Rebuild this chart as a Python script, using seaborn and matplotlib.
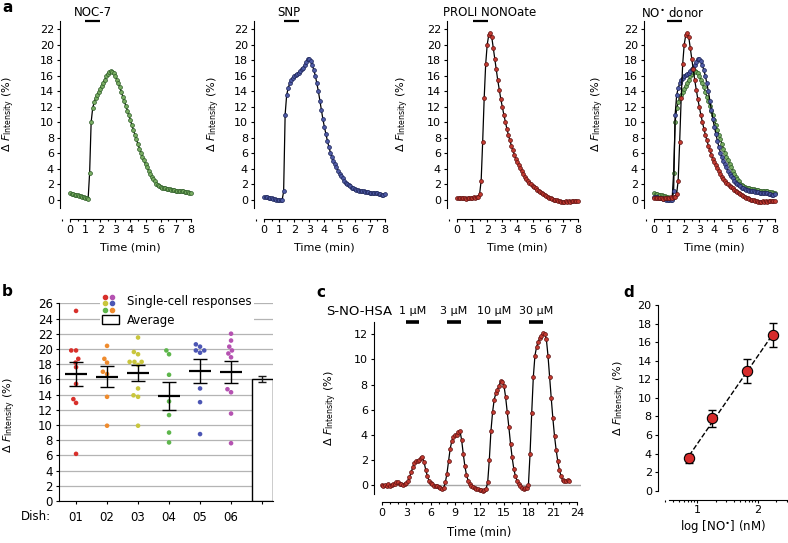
"""
Multi-panel NO-sensor figure: single traces (a), per-dish responses (b),
S-NO-HSA dose steps (c) and dose-response fit (d).
"""

import numpy as np
import pandas as pd
import matplotlib
matplotlib.use("Agg")
import matplotlib.pyplot as plt
import matplotlib.ticker as mticker
import matplotlib.transforms as mtransforms
from matplotlib.lines import Line2D
from matplotlib.patches import Rectangle
from matplotlib.legend_handler import HandlerBase
import seaborn as sns

W, H, DPI = 788, 543, 100

# ---------------------------------------------------------------- data
# panel a: dF (%) sampled every 0.1 min from 0 to 8 min
A_STEP = 0.1
noc7 = [0.85, 0.80, 0.75, 0.70, 0.65, 0.60, 0.55, 0.50, 0.45, 0.35,
        0.30, 0.20, 0.15, 3.5, 10.0, 11.8, 12.6, 13.1, 13.5, 13.9,
        14.3, 14.7, 15.1, 15.5, 15.9, 16.2, 16.5, 16.65, 16.5, 16.3,
        16.0, 15.5, 15.0, 14.5, 13.9, 13.3, 12.7, 12.1, 11.5, 10.9,
        10.3, 9.6, 9.0, 8.4, 7.8, 7.2, 6.6, 6.1, 5.6, 5.1,
        4.6, 4.2, 3.8, 3.4, 3.0, 2.7, 2.4, 2.1, 1.9, 1.75,
        1.65, 1.6, 1.55, 1.5, 1.45, 1.4, 1.4, 1.35, 1.3, 1.25,
        1.2, 1.2, 1.15, 1.1, 1.1, 1.1, 1.05, 1.0, 1.0, 0.95,
        0.9]
snp = [0.45, 0.40, 0.35, 0.30, 0.25, 0.20, 0.15, 0.10, 0.05, 0.05,
       0.0, 0.0, 0.0, 1.1, 11.0, 13.5, 14.4, 15.0, 15.5, 15.7,
       15.9, 16.1, 16.2, 16.4, 16.6, 16.8, 17.0, 17.4, 17.8, 18.2,
       18.2, 17.9, 17.4, 16.7, 16.0, 15.0, 14.0, 12.8, 11.6, 10.4,
       9.4, 8.5, 7.6, 6.8, 6.1, 5.5, 5.0, 4.6, 4.2, 3.8,
       3.4, 3.1, 2.8, 2.5, 2.25, 2.05, 1.9, 1.75, 1.6, 1.5,
       1.4, 1.3, 1.25, 1.2, 1.15, 1.1, 1.1, 1.05, 1.0, 1.0,
       0.95, 0.95, 0.9, 0.9, 0.85, 0.85, 0.8, 0.75, 0.7, 0.7,
       0.75]
proli = [0.3, 0.3, 0.25, 0.3, 0.2, 0.25, 0.15, 0.25, 0.3, 0.2,
         0.3, 0.35, 0.3, 0.35, 0.4, 0.8, 2.5, 7.5, 13.1, 17.5,
         20.0, 21.2, 21.5, 21.0, 19.6, 18.2, 16.8, 15.4, 14.2, 13.0,
         12.0, 11.0, 10.1, 9.2, 8.4, 7.7, 7.0, 6.4, 5.8, 5.3,
         4.9, 4.5, 4.1, 3.7, 3.3, 3.0, 2.7, 2.45, 2.25, 2.05,
         1.85, 1.65, 1.5, 1.35, 1.2, 1.05, 0.9, 0.75, 0.6, 0.5,
         0.4, 0.3, 0.2, 0.1, 0.05, 0.0, -0.05, -0.1, -0.15, -0.2,
         -0.2, -0.2, -0.15, -0.2, -0.15, -0.2, -0.1, -0.15, -0.1, -0.1,
         -0.15]

# application periods (min) drawn as bars under the donor names
noc7_app = (1.0, 2.0)
snp_app = (1.3, 2.3)
proli_app = (1.05, 2.05)
donor_app = (0.85, 1.85)

# panel c: dF (%) sampled every 0.2 min from 0 to 23 min
C_STEP = 0.2
snohsa = [0.0, -0.05, 0.0, -0.1, 0.05, -0.05, 0.0, 0.1, 0.05, 0.25,
          0.2, 0.05, 0.1, 0.0, 0.1, 0.15, 0.3, 0.6, 1.0, 1.4,
          1.75, 1.9, 1.95, 2.0, 2.15, 2.2, 1.8, 1.2, 0.7, 0.35,
          0.15, 0.05, -0.05, -0.1, -0.1, -0.15, -0.2, -0.3, -0.2, 0.2,
          0.9, 1.9, 2.9, 3.5, 3.85, 3.95, 4.0, 4.2, 4.3, 3.6,
          2.5, 1.5, 0.8, 0.35, 0.1, -0.05, -0.15, -0.25, -0.3, -0.35,
          -0.4, -0.4, -0.45, -0.4, -0.3, 0.2, 2.0, 4.3, 5.8, 6.8,
          7.3, 7.6, 7.9, 8.3, 8.2, 7.9, 7.0, 5.8, 4.6, 3.3,
          2.2, 1.3, 0.7, 0.35, 0.1, -0.1, -0.25, -0.3, -0.25, -0.2,
          0.0, 2.5, 5.7, 8.6, 10.3, 11.0, 11.4, 11.7, 11.9, 12.1,
          12.0, 11.6, 10.3, 8.6, 6.9, 5.3, 3.9, 2.8, 1.9, 1.2,
          0.7, 0.4, 0.3, 0.35, 0.4, 0.35]
hsa_doses = ["1 \u00b5M", "3 \u00b5M", "10 \u00b5M", "30 \u00b5M"]
hsa_periods = [(3.0, 4.6), (8.0, 9.7), (12.9, 14.6), (18.1, 19.8)]

# panel b: single-cell responses per dish
dish_labels = ["01", "02", "03", "04", "05", "06"]
dish01 = [25.0, 19.8, 19.8, 18.7, 18.2, 17.6, 15.4, 13.4, 12.9, 6.2]
dish02 = [20.4, 18.7, 18.2, 17.0, 16.7, 13.7, 9.9]
dish03 = [21.5, 19.6, 19.3, 18.3, 18.3, 18.3, 17.9, 14.8, 13.9, 13.7, 9.9]
dish04 = [19.8, 19.3, 16.6, 13.1, 11.3, 9.0, 7.7]
dish05 = [20.6, 20.3, 19.8, 19.5, 19.8, 14.8, 13.0, 8.8]
dish06 = [22.0, 21.1, 20.3, 19.4, 19.8, 18.9, 14.7, 14.3, 11.5, 7.6]
dish_colours = ["#d8302b", "#ef8b2d", "#c9c63c", "#5db64b", "#4c56b4", "#b552b1"]
avg_response = 16.0
avg_sem = 0.4

# panel d: dose response
no_conc_nm = [7.4, 17.8, 66.0, 178.0]
no_response = [3.5, 7.8, 12.9, 16.8]
no_response_sem = [0.5, 0.9, 1.3, 1.3]

TRACE_COLOURS = {
    "green": ("#79ad63", "#2b5a25"),
    "blue": ("#4f5ba6", "#1b2356"),
    "red": ("#c23a30", "#5e1111"),
}

YLABEL = r"$\Delta$ $\mathit{F}_{\mathrm{Intensity}}$ (%)"

# ---------------------------------------------------------------- style
sns.set_theme(style="ticks")
plt.rcParams["font.family"] = ["DejaVu Sans"]
plt.rcParams["mathtext.fontset"] = "dejavusans"
plt.rcParams["axes.edgecolor"] = "black"
plt.rcParams["xtick.color"] = "black"
plt.rcParams["ytick.color"] = "black"
plt.rcParams["text.color"] = "black"
plt.rcParams["axes.labelcolor"] = "black"


def px_axes(fig, box):
    left, top, right, bottom = box
    return fig.add_axes([left / W, 1 - bottom / H, (right - left) / W, (bottom - top) / H])


def frac(box, x_px=None, y_px=None):
    left, top, right, bottom = box
    fx = None if x_px is None else (x_px - left) / (right - left)
    fy = None if y_px is None else (bottom - y_px) / (bottom - top)
    return fx, fy


def style_axis(ax, size=8):
    ax.spines[["top", "right"]].set_visible(False)
    for s in ("left", "bottom"):
        ax.spines[s].set_linewidth(0.8)
    ax.tick_params(which="both", direction="out", width=0.8, labelsize=size)
    ax.tick_params(which="major", length=2.5, pad=2)
    ax.tick_params(which="minor", length=1.5)


def draw_trace(ax, t, y, colour):
    face, edge = TRACE_COLOURS[colour]
    sns.lineplot(x=t, y=y, ax=ax, color="black", lw=0.9, marker="o",
                 markersize=2.8, markerfacecolor=face, markeredgecolor=edge,
                 markeredgewidth=0.5, estimator=None)


fig = plt.figure(figsize=(W / DPI, H / DPI), dpi=DPI)

# ---------------------------------------------------------------- panel a
t_a = np.arange(len(noc7)) * A_STEP
a_panels = [
    ("NOC-7", [(noc7, "green")], noc7_app, 70, 0.26, 17),
    ("SNP", [(snp, "blue")], snp_app, 264, 0.86, 222),
    ("PROLI NONOate", [(proli, "red")], proli_app, 457, -0.93, 411),
    (r"NO$^{\bullet}$ donor", [(noc7, "green"), (snp, "blue"), (proli, "red")],
     donor_app, 654, -0.86, 606),
]
PX_PER_MIN = 15.1
for title, traces, app, x0, title_x, ylab_px in a_panels:
    box = (x0 - 0.65 * PX_PER_MIN, 21.3, x0 + 8.2 * PX_PER_MIN, 207.8)
    ax = px_axes(fig, box)
    for series, colour in traces:
        draw_trace(ax, t_a[:len(series)], series, colour)
    style_axis(ax)
    ax.set_xlim(-0.65, 8.2)
    ax.set_ylim(-1, 23)
    ax.set_yticks(range(0, 23, 2))
    ax.set_xticks(range(0, 9))
    ax.xaxis.set_minor_locator(mticker.MultipleLocator(0.5))
    ax.spines["bottom"].set_position(("outward", 8))
    ax.spines["bottom"].set_bounds(0, 8)
    ax.set_xlabel("Time (min)", fontsize=8)
    ax.set_ylabel(YLABEL, fontsize=8)
    ax.yaxis.set_label_coords(frac(box, x_px=ylab_px)[0], 0.5)
    ax.xaxis.set_label_coords(*frac(box, x_px=x0 + 4 * PX_PER_MIN, y_px=242))
    trans = mtransforms.blended_transform_factory(ax.transData, ax.transAxes)
    ax.text(title_x, frac(box, y_px=13)[1], title, transform=trans,
            ha="left", va="center", fontsize=8.5)
    ax.hlines(23, *app, color="black", lw=1.6, clip_on=False)

# ---------------------------------------------------------------- panel b
box_b = (59, 303.3, 59 + 6.9 * 31, 501)
ax = px_axes(fig, box_b)
df_b = pd.DataFrame(
    [(d, v) for d, vals in zip(dish_labels, [dish01, dish02, dish03, dish04, dish05, dish06])
     for v in vals],
    columns=["dish", "value"],
)
ax.set_axisbelow(True)
ax.yaxis.grid(True, color="#b4b4b4", lw=0.9)
sns.swarmplot(data=df_b, x="dish", y="value", hue="dish", order=dish_labels,
              palette=dict(zip(dish_labels, dish_colours)), size=3.3,
              legend=False, ax=ax, zorder=3)
stats = df_b.groupby("dish")["value"].agg(["mean", "sem"]).reindex(dish_labels)
pos = np.arange(len(dish_labels))
ax.hlines(stats["mean"], pos - 0.36, pos + 0.36, color="black", lw=1.6, zorder=4)
ax.errorbar(pos, stats["mean"], yerr=stats["sem"], fmt="none", ecolor="black",
            elinewidth=1, capsize=5.2, capthick=1, zorder=4)
ax.bar(len(dish_labels), avg_response, width=0.68, color="white", edgecolor="black",
       lw=1, yerr=avg_sem, capsize=3, error_kw=dict(elinewidth=1, capthick=1), zorder=3)
style_axis(ax, size=8.5)
ax.set_xlim(-0.55, 6.35)
ax.set_ylim(0, 26)
ax.set_yticks(range(0, 27, 2))
ax.set_xticks(range(len(dish_labels) + 1))
ax.set_xticklabels(dish_labels + [""])
ax.tick_params(axis="x", pad=5)
ax.set_xlabel("")
ax.set_ylabel(YLABEL, fontsize=8)
ax.yaxis.set_label_coords(*frac(box_b, x_px=18, y_px=415))
ax.text(frac(box_b, x_px=51)[0], frac(box_b, y_px=517)[1], "Dish:",
        transform=ax.transAxes, ha="right", va="center", fontsize=8.5)


class DotGrid:
    def __init__(self, colours):
        self.colours = colours


class DotGridHandler(HandlerBase):
    def create_artists(self, legend, orig_handle, xdescent, ydescent, width,
                       height, fontsize, trans):
        artists = []
        for k, c in enumerate(orig_handle.colours):
            row, col = divmod(k, 2)
            x = -xdescent + 1.6 + col * 5.0
            y = -ydescent + height / 2 + 3.0 - row * 4.6
            dot = Line2D([x], [y], marker="o", ls="none", ms=3.0, color=c)
            dot.set_transform(trans)
            artists.append(dot)
        return artists


legend_dots = DotGrid([dish_colours[0], dish_colours[5], dish_colours[2],
                       dish_colours[4], dish_colours[3], dish_colours[1]])
legend_box = Rectangle((0, 0), 1, 1, facecolor="white", edgecolor="black", lw=1)
ax.legend([legend_dots, legend_box], ["Single-cell responses", "Average"],
          handler_map={DotGrid: DotGridHandler()}, loc="upper left",
          bbox_to_anchor=frac(box_b, x_px=100, y_px=293), borderaxespad=0,
          borderpad=0.2, handlelength=1.4, handleheight=0.75, handletextpad=0.7,
          labelspacing=0.45, fontsize=8.5, frameon=True, fancybox=False,
          facecolor="white", edgecolor="none", framealpha=1)

# ---------------------------------------------------------------- panel c
box_c = (374, 321.7, 581.4, 493.8)
ax = px_axes(fig, box_c)
t_c = np.arange(len(snohsa)) * C_STEP
ax.hlines(0, 0, 24.5, color="#a8a8a8", lw=1, zorder=1)
draw_trace(ax, t_c, snohsa, "red")
style_axis(ax)
ax.set_xlim(-0.95, 24.5)
ax.set_ylim(-0.7, 13)
ax.set_yticks(range(0, 13, 2))
ax.set_xticks(range(0, 25, 3))
ax.xaxis.set_minor_locator(mticker.MultipleLocator(1))
ax.spines["bottom"].set_position(("outward", 6))
ax.spines["bottom"].set_bounds(0, 24)
ax.set_xlabel("Time (min)", fontsize=8.5)
ax.set_ylabel(YLABEL, fontsize=8)
ax.yaxis.set_label_coords(frac(box_c, x_px=339)[0], 0.5)
ax.xaxis.set_label_coords(*frac(box_c, x_px=479.5, y_px=526))
ax.text(-2.8, 13.85, "S-NO-HSA", ha="center", va="center", fontsize=9.5, clip_on=False)
for dose, (start, stop) in zip(hsa_doses, hsa_periods):
    ax.hlines(13.0, start, stop, color="black", lw=2.6, clip_on=False)
    ax.text((start + stop) / 2, 13.85, dose, ha="center", va="center", fontsize=8)

# ---------------------------------------------------------------- panel d
box_d = (658, 305, 788, 490.7)
ax = px_axes(fig, box_d)
ax.set_xscale("log")
sns.regplot(x=no_conc_nm, y=no_response, logx=True, ci=None, scatter=False, ax=ax,
            line_kws=dict(color="black", ls="--", lw=1))
ax.errorbar(no_conc_nm, no_response, yerr=no_response_sem, fmt="none", ecolor="black",
            elinewidth=1, capsize=3, capthick=1, zorder=3)
sns.scatterplot(x=no_conc_nm, y=no_response, ax=ax, s=55, color="#d62b2b",
                edgecolor="black", linewidth=0.8, zorder=4)
style_axis(ax)
ax.set_xlim(10 ** 0.356, 10 ** 2.49)
ax.set_ylim(0, 20)
ax.set_yticks(range(0, 21, 2))
ax.xaxis.set_major_locator(mticker.LogLocator(base=10))
ax.xaxis.set_minor_locator(mticker.LogLocator(base=10, subs=np.arange(2, 10)))
ax.xaxis.set_major_formatter(mticker.FuncFormatter(lambda v, _: f"{np.log10(v):.0f}"))
ax.xaxis.set_minor_formatter(mticker.NullFormatter())
ax.tick_params(axis="x", which="major", length=2.5, pad=1)
ax.spines["bottom"].set_position(("outward", 6.5))
ax.spines["bottom"].set_bounds(3.5, 10 ** 2.49)
ax.set_xlabel(r"log [NO$^{\bullet}$] (nM)", fontsize=8.5)
ax.set_ylabel(YLABEL, fontsize=8)
ax.yaxis.set_label_coords(frac(box_d, x_px=628)[0], 0.5)
ax.xaxis.set_label_coords(*frac(box_d, x_px=723, y_px=518))

# ---------------------------------------------------------------- panel letters
for letter, x_px, y_px in [("a", 2, 12), ("b", 2, 296), ("c", 316, 297), ("d", 623, 297)]:
    fig.text(x_px / W, 1 - y_px / H, letter, fontsize=11, fontweight="bold",
             ha="left", va="baseline")

fig.savefig("out.png", dpi=DPI)
